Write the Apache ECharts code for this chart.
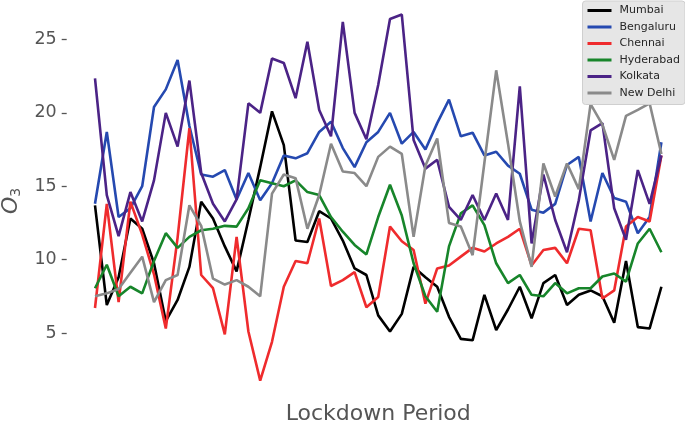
<!DOCTYPE html>
<html>
<head>
<meta charset="utf-8">
<script src="https://cdn.jsdelivr.net/npm/echarts@6/dist/echarts.min.js"></script>
<style>
html,body{margin:0;padding:0;background:#fff;}
#chart{width:685px;height:425px;}
</style>
</head>
<body>
<div id="chart"></div>
<script>
// Data
const days = Array.from({length: 49}, (_, i) => String(i + 1));
const cities = ['Mumbai', 'Bengaluru', 'Chennai', 'Hyderabad', 'Kolkata', 'New Delhi'];
const yTicks = [5, 10, 15, 20, 25];

const mumbai = [13.7, 6.9, 8.8, 12.8, 12.1, 9.75, 5.8, 7.25, 9.5, 13.95,
  12.8, 10.9, 9.2, 12.7, 16.3, 20.1, 17.8, 11.3, 11.2, 13.3,
  12.8, 11.3, 9.4, 8.95, 6.2, 5.1, 6.3, 9.5, 8.8, 8.15,
  6.1, 4.6, 4.5, 7.6, 5.2, 6.6, 8.15, 6.0, 8.4, 8.95,
  6.9, 7.6, 7.9, 7.5, 5.7, 9.9, 5.4, 5.3, 8.15];
const bengaluru = [13.8, 18.7, 12.9, 13.5, 15.0, 20.4, 21.6, 23.6, 19.1, 15.8,
  15.65, 16.1, 14.1, 15.9, 14.05, 15.2, 17.1, 16.9, 17.25, 18.7,
  19.4, 17.6, 16.3, 18.0, 18.7, 20.0, 17.9, 18.7, 17.5, 19.3,
  20.9, 18.4, 18.65, 17.1, 17.35, 16.4, 15.85, 13.4, 13.2, 13.8,
  16.45, 17.0, 12.6, 15.9, 14.2, 13.95, 11.8, 12.9, 18.0];
const chennai = [6.7, 13.8, 7.1, 13.95, 11.7, 9.0, 5.3, 11.5, 18.95, 8.95,
  8.05, 4.9, 11.55, 5.1, 1.75, 4.4, 8.15, 9.9, 9.75, 12.8,
  8.2, 8.6, 9.15, 6.75, 7.45, 12.25, 11.25, 10.65, 7.0, 9.4,
  9.6, 10.2, 10.8, 10.55, 11.1, 11.55, 12.1, 9.6, 10.65, 10.8,
  9.75, 12.1, 12.0, 7.35, 7.9, 12.25, 12.9, 12.6, 17.1];
const hyderabad = [8.05, 9.65, 7.5, 8.15, 7.7, 9.9, 11.8, 10.8, 11.55, 12.0,
  12.1, 12.3, 12.25, 13.5, 15.4, 15.2, 15.0, 15.4, 14.6, 14.4,
  12.9, 11.9, 11.0, 10.35, 12.9, 15.1, 13.0, 9.75, 7.5, 6.45,
  10.9, 13.15, 13.7, 12.35, 9.75, 8.4, 8.95, 7.6, 7.5, 8.4,
  7.7, 8.05, 8.05, 8.85, 9.05, 8.5, 11.1, 12.1, 10.5];
const kolkata = [22.35, 14.4, 11.6, 14.6, 12.6, 15.4, 20.0, 17.7, 22.2, 15.9,
  13.8, 12.6, 14.1, 20.65, 20.0, 23.7, 23.4, 21.0, 24.85, 20.2,
  18.4, 26.2, 20.0, 18.2, 21.9, 26.4, 26.7, 18.15, 16.2, 16.8,
  13.6, 12.7, 14.4, 12.7, 14.5, 12.7, 21.8, 11.1, 15.8, 12.7,
  10.5, 14.05, 18.8, 19.3, 13.5, 11.35, 16.1, 13.8, 17.1];
const newDelhi = [7.5, 7.7, 8.0, 9.1, 10.2, 7.1, 8.6, 8.95, 13.7, 12.3,
  8.7, 8.3, 8.6, 8.15, 7.5, 14.5, 15.8, 15.55, 12.1, 14.4,
  17.9, 16.0, 15.9, 15.0, 17.0, 17.7, 17.2, 11.55, 16.4, 18.25,
  12.5, 12.25, 10.3, 16.6, 22.9, 17.9, 12.6, 9.5, 16.55, 14.3,
  16.55, 14.8, 20.6, 19.2, 16.8, 19.8, 20.2, 20.65, 17.2];

const seriesValues = [mumbai, bengaluru, chennai, hyderabad, kolkata, newDelhi];
const colors = ['#000000', '#2549b0', '#ef2b2d', '#17852a', '#4b2386', '#8a8a8a'];

const chart = echarts.init(document.getElementById('chart'), null, {renderer: 'canvas'});
const option = {
  animation: false,
  backgroundColor: '#ffffff',
  grid: {left: 95, right: 23.6, top: 2.8, bottom: 26, containLabel: false, outerBoundsMode: 'none'},
  legend: {
    orient: 'vertical',
    right: 0,
    top: 1,
    data: cities,
    icon: 'rect',
    itemWidth: 24,
    itemHeight: 3,
    itemGap: 3.5,
    padding: [3, 5, 5, 5],
    backgroundColor: '#e6e6e6',
    borderColor: '#cfcfcf',
    borderWidth: 1,
    borderRadius: 3,
    textStyle: {fontFamily: 'DejaVu Sans', fontSize: 11, color: '#262626', lineHeight: 13, padding: [0, 0, 0, 3]}
  },
  xAxis: {
    type: 'category',
    data: days,
    boundaryGap: false,
    axisLine: {show: false},
    axisTick: {show: false},
    axisLabel: {show: false},
    splitLine: {show: false},
    name: 'Lockdown Period',
    nameLocation: 'middle',
    nameGap: 4,
    nameTextStyle: {fontFamily: 'DejaVu Sans', fontSize: 22, color: '#555555', lineHeight: 22}
  },
  yAxis: {
    type: 'value',
    min: 0.5,
    max: 27.5,
    offset: 28.3,
    axisLine: {show: false},
    splitLine: {show: false},
    axisTick: {show: true, length: 5, customValues: yTicks, lineStyle: {color: '#555555', width: 1.3}},
    axisLabel: {customValues: yTicks, margin: 10, fontFamily: 'DejaVu Sans', fontSize: 17.5, color: '#555555'},
    name: '{o|O}{s|3}',
    nameLocation: 'middle',
    nameRotate: 90,
    nameGap: 43,
    nameTextStyle: {
      color: '#555555',
      rich: {
        o: {fontFamily: 'DejaVu Sans', fontStyle: 'italic', fontSize: 22, color: '#555555'},
        s: {fontFamily: 'DejaVu Sans', fontSize: 14, color: '#555555', verticalAlign: 'bottom', padding: [10, 0, 0, 0]}
      }
    }
  },
  series: cities.map((name, k) => ({
    name: name,
    type: 'line',
    data: seriesValues[k],
    symbol: 'none',
    lineStyle: {color: colors[k], width: 2.6},
    itemStyle: {color: colors[k]}
  }))
};
chart.setOption(option);
</script>
</body>
</html>
